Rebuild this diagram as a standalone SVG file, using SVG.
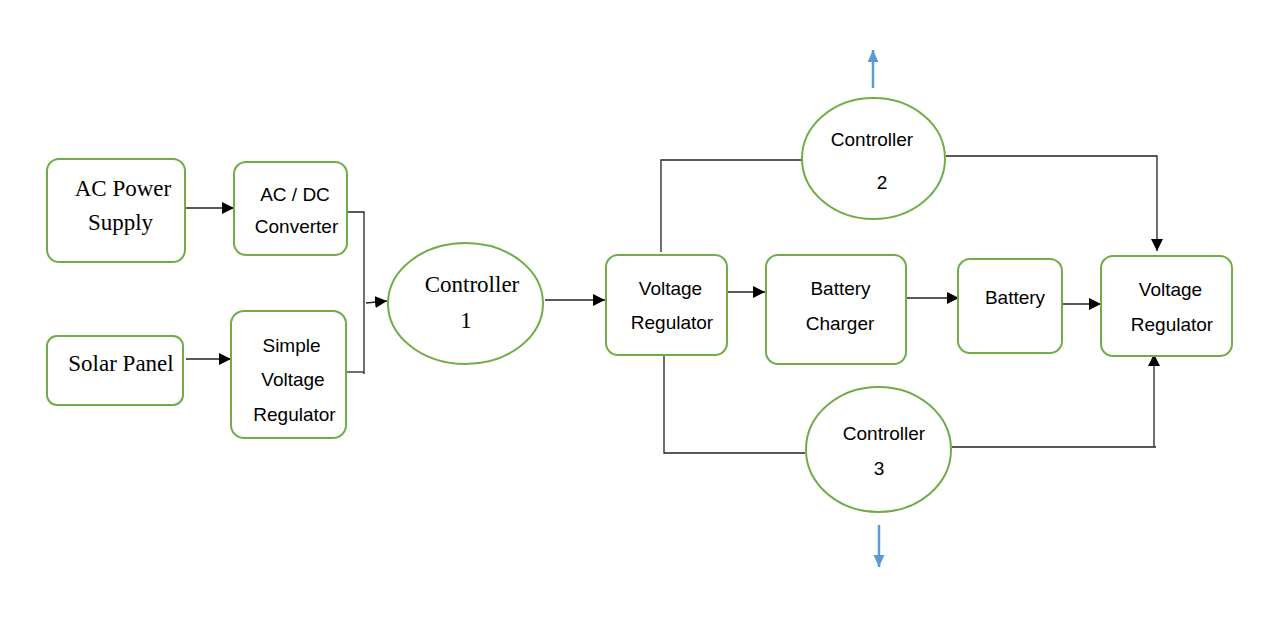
<svg xmlns="http://www.w3.org/2000/svg" width="1283" height="626" viewBox="0 0 1283 626">
<style>
.box{fill:#fff;stroke:#70AD47;stroke-width:2}
.sans{font-family:"Liberation Sans",Arial,sans-serif;font-size:19px;fill:#000;text-anchor:middle}
.serif{font-family:"Liberation Serif","Times New Roman",serif;font-size:23px;fill:#000;text-anchor:middle}
.ln{fill:none;stroke:#222;stroke-width:1.3}
.blue{fill:none;stroke:#5B9BD5;stroke-width:2.5}
</style>
<defs>
<marker id="ah" markerUnits="userSpaceOnUse" markerWidth="13" markerHeight="13" refX="12" refY="6" orient="auto"><path d="M0,0 L12,6 L0,12 z" fill="#000"/></marker>
<marker id="bh" markerUnits="userSpaceOnUse" markerWidth="13" markerHeight="12" refX="12" refY="5.5" orient="auto"><path d="M0,0 L12,5.5 L0,11 z" fill="#5B9BD5"/></marker>
</defs>
<rect width="1283" height="626" fill="#fff"/>
<g id="connectors">
<path class="ln" d="M184,208 H234" marker-end="url(#ah)"/>
<path class="ln" d="M186,359 H231" marker-end="url(#ah)"/>
<path class="ln" d="M347,212 H364 V374"/>
<path class="ln" d="M346,372 H364"/>
<path class="ln" d="M366,303 L387,301" marker-end="url(#ah)"/>
<path class="ln" d="M545,300 H605" marker-end="url(#ah)"/>
<path class="ln" d="M727,292 H765" marker-end="url(#ah)"/>
<path class="ln" d="M907,298 H959" marker-end="url(#ah)"/>
<path class="ln" d="M1062,304 H1101" marker-end="url(#ah)"/>
<path class="ln" d="M661,252 V160 H802"/>
<path class="ln" d="M946,156 H1157 V251" marker-end="url(#ah)"/>
<path class="ln" d="M664,356 V453 H805"/>
<path class="ln" d="M952,447 H1156"/>
<path class="ln" d="M1154,447 V354" marker-end="url(#ah)"/>
<path class="blue" d="M873,88 V50" marker-end="url(#bh)"/>
<path class="blue" d="M879,525 V567" marker-end="url(#bh)"/>
</g>
<g id="ac-power-supply">
<rect class="box" x="47" y="159" width="138" height="103" rx="12"/>
<text class="serif" x="123" y="196">AC Power</text>
<text class="serif" x="120.5" y="230">Supply</text>
</g>
<g id="ac-dc-converter">
<rect class="box" x="234" y="162" width="113" height="93" rx="12"/>
<text class="sans" x="295" y="201">AC / DC</text>
<text class="sans" x="296.5" y="233">Converter</text>
</g>
<g id="solar-panel">
<rect class="box" x="47" y="336" width="136" height="69" rx="10"/>
<text class="serif" x="121" y="371">Solar Panel</text>
</g>
<g id="simple-voltage-regulator">
<rect class="box" x="231" y="311" width="115" height="127" rx="13"/>
<text class="sans" x="291.5" y="352">Simple</text>
<text class="sans" x="293" y="386">Voltage</text>
<text class="sans" x="294.5" y="421">Regulator</text>
</g>
<g id="controller-1">
<ellipse class="box" cx="465.5" cy="303.5" rx="77.5" ry="60.5"/>
<text class="serif" x="472" y="292">Controller</text>
<text class="serif" x="466" y="328">1</text>
</g>
<g id="voltage-regulator-1">
<rect class="box" x="606" y="255" width="121" height="100" rx="12"/>
<text class="sans" x="670.5" y="295">Voltage</text>
<text class="sans" x="672" y="329">Regulator</text>
</g>
<g id="battery-charger">
<rect class="box" x="766" y="255" width="140" height="109" rx="12"/>
<text class="sans" x="840.5" y="295">Battery</text>
<text class="sans" x="840" y="330">Charger</text>
</g>
<g id="controller-2">
<ellipse class="box" cx="873.5" cy="158.5" rx="71.5" ry="60.5"/>
<text class="sans" x="872" y="146">Controller</text>
<text class="sans" x="882" y="189">2</text>
</g>
<g id="battery">
<rect class="box" x="958" y="259" width="104" height="94" rx="12"/>
<text class="sans" x="1015" y="304">Battery</text>
</g>
<g id="voltage-regulator-2">
<rect class="box" x="1101" y="256" width="131" height="100" rx="12"/>
<text class="sans" x="1170.5" y="296">Voltage</text>
<text class="sans" x="1172" y="331">Regulator</text>
</g>
<g id="controller-3">
<ellipse class="box" cx="878.5" cy="449.5" rx="72.5" ry="62.5"/>
<text class="sans" x="884" y="440">Controller</text>
<text class="sans" x="879" y="475">3</text>
</g>
</svg>
